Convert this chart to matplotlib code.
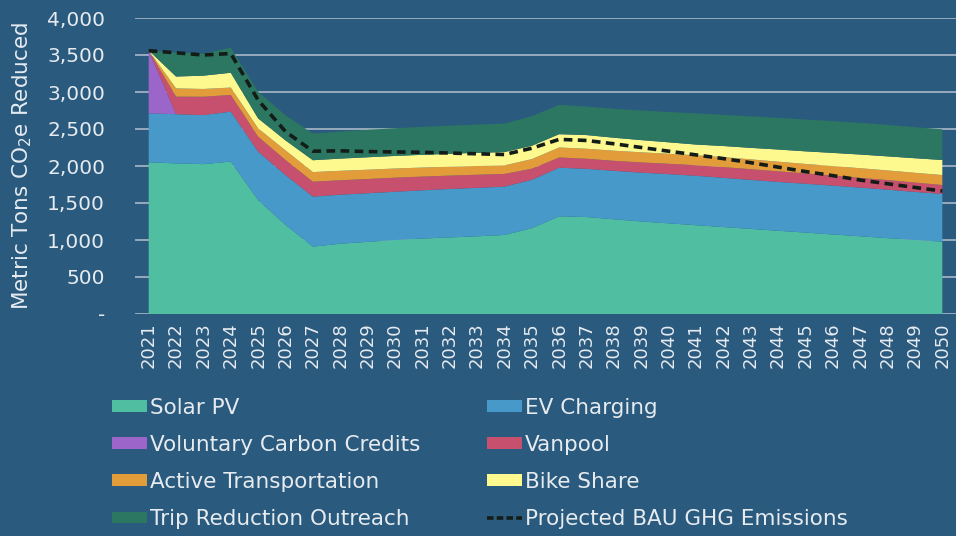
import matplotlib
matplotlib.use("Agg")
import matplotlib.pyplot as plt
from matplotlib.patches import Patch
from matplotlib.lines import Line2D

plt.rcParams['font.family'] = ['DejaVu Sans']

years = list(range(2021, 2051))

solar = [2050, 2035, 2025, 2060, 1540, 1205, 910, 950, 975, 1000, 1020, 1035, 1050, 1068, 1160,
         1320, 1310, 1280, 1250, 1225, 1200, 1175, 1150, 1125, 1100, 1075, 1050, 1025, 1000, 978]
ev_charging = [662, 665, 663, 675, 653, 673, 676, 662, 657, 652, 652, 655, 655, 653, 653,
               657, 652, 655, 660, 665, 668, 665, 662, 660, 660, 660, 658, 655, 650, 644]
voluntary_credits = [850, 0, 0, 0, 0, 0, 0, 0, 0, 0, 0, 0, 0, 0, 0,
                     0, 0, 0, 0, 0, 0, 0, 0, 0, 0, 0, 0, 0, 0, 0]
vanpool = [0, 237, 248, 225, 203, 203, 202, 195, 192, 190, 185, 180, 177, 172, 150,
           138, 136, 135, 138, 140, 142, 145, 145, 143, 140, 136, 132, 130, 126, 121]
active_transport = [0, 112, 105, 100, 112, 130, 130, 128, 126, 124, 122, 120, 118, 115, 130,
                    135, 135, 137, 137, 135, 135, 135, 133, 130, 128, 128, 130, 130, 132, 135]
bike_share = [0, 160, 180, 200, 135, 135, 160, 165, 168, 170, 172, 175, 178, 180, 180,
              180, 185, 175, 165, 155, 145, 150, 155, 165, 170, 178, 185, 190, 197, 203]
trip_reduction = [0, 323, 298, 338, 361, 338, 360, 365, 370, 375, 378, 380, 382, 385, 400,
                  396, 385, 390, 400, 410, 420, 422, 425, 428, 430, 430, 428, 425, 420, 415]
bau = [3558, 3530, 3500, 3520, 2890, 2465, 2200, 2205, 2195, 2190, 2185, 2175, 2165, 2155, 2240,
       2360, 2345, 2300, 2250, 2200, 2150, 2100, 2045, 1985, 1925, 1870, 1810, 1760, 1710, 1662]

series_names = ["Solar PV", "EV Charging", "Voluntary Carbon Credits", "Vanpool",
                "Active Transportation", "Bike Share", "Trip Reduction Outreach"]
bau_name = "Projected BAU GHG Emissions"
colors = ["#50BFA1", "#4699C9", "#9B65C9", "#C8506F", "#E39C3A", "#FDF98F", "#2C7762"]
ytick_vals = [0, 500, 1000, 1500, 2000, 2500, 3000, 3500, 4000]
ytick_labels = ["-", "500", "1,000", "1,500", "2,000", "2,500", "3,000", "3,500", "4,000"]

bg = "#2A5A7E"
txt = "#E6EBF0"
W, H = 956, 536

fig = plt.figure(figsize=(W / 100, H / 100), dpi=100, facecolor=bg)
ax = fig.add_axes([135 / W, 1 - 314 / H, (956 - 135) / W, (314 - 18) / H])
ax.set_facecolor(bg)

ax.stackplot(years, solar, ev_charging, voluntary_credits, vanpool, active_transport,
             bike_share, trip_reduction, colors=colors, linewidth=0, zorder=2)
ax.plot(years, bau, color="#141C18", lw=2.6, ls=(0, (2.4, 1.5)), zorder=3)

ax.set_xlim(2020.5, 2050.5)
ax.set_ylim(0, 4000)
ax.set_yticks(ytick_vals)
ax.set_yticklabels(ytick_labels)
ax.set_xticks(years)
ax.set_xticklabels([str(y) for y in years], rotation=90)
ax.grid(axis='y', color="#A9B9C8", lw=1.2, zorder=1)
ax.set_axisbelow(True)
for s in ax.spines.values():
    s.set_visible(False)
ax.tick_params(axis='both', length=0, colors=txt)
ax.tick_params(axis='y', pad=21.5, labelsize=14.5)
ax.tick_params(axis='x', pad=6, labelsize=13)
ax.set_ylabel("Metric Tons CO$_\\mathregular{2}$e Reduced", color=txt, fontsize=15.5)
ax.yaxis.set_label_coords(-(135 - 22) / (956 - 135), 0.5)
ax.yaxis.label.set_verticalalignment('center')

handles = [Patch(facecolor=c, edgecolor='none') for c in colors]
bau_handle = Line2D([0], [0], color="#141C18", lw=2.6, ls=(0, (1.8, 0.9)))
col1 = [0, 2, 4, 6]
col2 = [1, 3, 5]
leg_kw = dict(frameon=False, fontsize=15.5, labelcolor=txt, handlelength=1.62,
              handleheight=0.46, handletextpad=0.15, labelspacing=0.79, borderaxespad=0,
              borderpad=0, loc='upper left')
fig.legend([handles[i] for i in col1], [series_names[i] for i in col1],
           bbox_to_anchor=(112 / W, 1 - 398 / H), **leg_kw)
fig.legend([handles[i] for i in col2] + [bau_handle], [series_names[i] for i in col2] + [bau_name],
           bbox_to_anchor=(487 / W, 1 - 398 / H), **leg_kw)

fig.savefig("out.png", dpi=100, facecolor=bg)
